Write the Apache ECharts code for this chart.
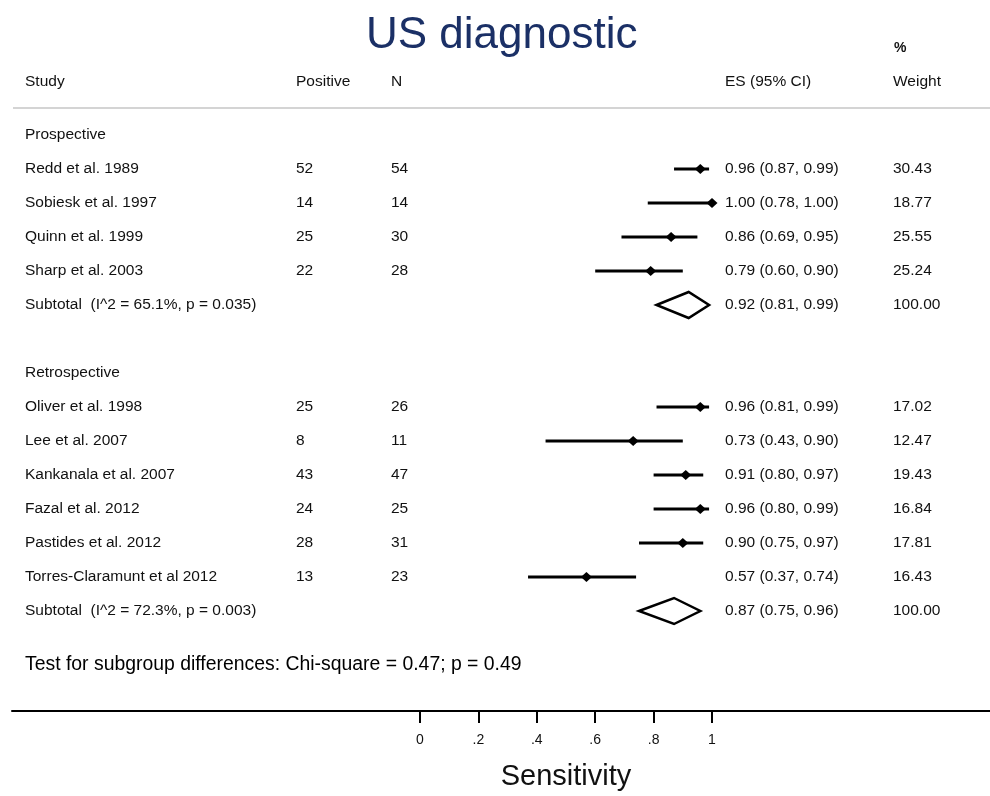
<!DOCTYPE html>
<html>
<head>
<meta charset="utf-8">
<script src="https://cdn.jsdelivr.net/npm/echarts@6/dist/echarts.min.js"></script>
<style>html,body{margin:0;padding:0;background:#fff;}#c{width:990px;height:796px;}</style>
</head>
<body>
<div id="c"></div>
<script>
// ---------- data ----------
const titleText = 'US diagnostic';
const groupNames = ['Prospective', 'Retrospective'];
const studies = ['Redd et al. 1989', 'Sobiesk et al. 1997', 'Quinn et al. 1999', 'Sharp et al. 2003',
  'Oliver et al. 1998', 'Lee et al. 2007', 'Kankanala et al. 2007', 'Fazal et al. 2012',
  'Pastides et al. 2012', 'Torres-Claramunt et al 2012'];
const studyGroup = [0, 0, 0, 0, 1, 1, 1, 1, 1, 1];
const positives = [52, 14, 25, 22, 25, 8, 43, 24, 28, 13];
const totals = [54, 14, 30, 28, 26, 11, 47, 25, 31, 23];
const es = [0.96, 1.00, 0.86, 0.79, 0.96, 0.73, 0.91, 0.96, 0.90, 0.57];
const ciLow = [0.87, 0.78, 0.69, 0.60, 0.81, 0.43, 0.80, 0.80, 0.75, 0.37];
const ciHigh = [0.99, 1.00, 0.95, 0.90, 0.99, 0.90, 0.97, 0.99, 0.97, 0.74];
const weights = ['30.43', '18.77', '25.55', '25.24', '17.02', '12.47', '19.43', '16.84', '17.81', '16.43'];
const subtotalLabels = ['Subtotal  (I^2 = 65.1%, p = 0.035)', 'Subtotal  (I^2 = 72.3%, p = 0.003)'];
const subES = [0.92, 0.87];
const subLow = [0.81, 0.75];
const subHigh = [0.99, 0.96];
const subWeights = ['100.00', '100.00'];
const headers = ['Study', 'Positive', 'N', 'ES (95% CI)', 'Weight'];
const weightTopHeader = '%';
const testText = 'Test for subgroup differences: Chi-square = 0.47; p = 0.49';
const xTicks = [0, 0.2, 0.4, 0.6, 0.8, 1];
const xTickLabels = ['0', '.2', '.4', '.6', '.8', '1'];
const xAxisName = 'Sensitivity';

// ---------- layout ----------
const FONT = "'Liberation Sans', Arial, sans-serif";
const colX = [25, 296, 391, 725, 893];   // pixel x of text columns
const ROW0_Y = 135, ROW_H = 34, AXIS_Y = 711, GRID_L = 12, GRID_R = 990;
const X0 = 420, XUNIT = 292;              // pixel of value 0 and px per unit

// assign rows
const headerRow = [], studyRow = [], subRow = [];
let r = 0;
for (let g = 0; g < groupNames.length; g++) {
  headerRow[g] = r++;
  for (let i = 0; i < studies.length; i++) if (studyGroup[i] === g) studyRow[i] = r++;
  subRow[g] = r++;
  r++;
}
const testRow = subRow[groupNames.length - 1] + 1.59;
const colHeaderRow = -1.56;
const pctRow = -2.56;
const ruleRow = -0.794;

function fmt(v) { return v.toFixed(2); }

const texts = [];
headers.forEach((h, c) => texts.push({ row: colHeaderRow, x: colX[c], t: h, size: 15.5 }));
texts.push({ row: pctRow, x: colX[4] + 1, t: weightTopHeader, size: 14, w: 'bold' });
for (let g = 0; g < groupNames.length; g++) {
  texts.push({ row: headerRow[g], x: colX[0], t: groupNames[g], size: 15.5 });
  texts.push({ row: subRow[g], x: colX[0], t: subtotalLabels[g], size: 15.5 });
  texts.push({ row: subRow[g], x: colX[3], t: fmt(subES[g]) + ' (' + fmt(subLow[g]) + ', ' + fmt(subHigh[g]) + ')', size: 15.5 });
  texts.push({ row: subRow[g], x: colX[4], t: subWeights[g], size: 15.5 });
}
studies.forEach((s, i) => {
  texts.push({ row: studyRow[i], x: colX[0], t: s, size: 15.5 });
  texts.push({ row: studyRow[i], x: colX[1], t: String(positives[i]), size: 15.5 });
  texts.push({ row: studyRow[i], x: colX[2], t: String(totals[i]), size: 15.5 });
  texts.push({ row: studyRow[i], x: colX[3], t: fmt(es[i]) + ' (' + fmt(ciLow[i]) + ', ' + fmt(ciHigh[i]) + ')', size: 15.5 });
  texts.push({ row: studyRow[i], x: colX[4], t: weights[i], size: 15.5 });
});
texts.push({ row: testRow, x: colX[0], t: testText, size: 19.4, w: 500, c: '#000' });

const chart = echarts.init(document.getElementById('c'), null, { renderer: 'canvas' });
const yMin = -ROW0_Y / ROW_H, yMax = (AXIS_Y - ROW0_Y) / ROW_H;

const option = {
  backgroundColor: '#fff',
  animation: false,
  title: {
    text: titleText, left: 366, top: 14, padding: 0,
    textStyle: { fontFamily: FONT, fontSize: 44, fontWeight: 'normal', color: '#1b3066' }
  },
  grid: { left: GRID_L, right: 990 - GRID_R, top: 0, bottom: 796 - AXIS_Y, containLabel: false },
  xAxis: {
    type: 'value',
    position: 'bottom',
    min: (GRID_L - X0) / XUNIT,
    max: (GRID_R - X0) / XUNIT,
    axisLine: { show: true, onZero: false, lineStyle: { color: '#000', width: 2 } },
    axisTick: { show: true, customValues: xTicks, length: 12, lineStyle: { color: '#000', width: 2 } },
    axisLabel: {
      show: true, customValues: xTicks, margin: 22,
      formatter: v => { const k = xTicks.findIndex(t => Math.abs(t - v) < 1e-9); return k >= 0 ? xTickLabels[k] : ''; },
      fontFamily: FONT, fontSize: 14, color: '#111'
    },
    splitLine: { show: false }
  },
  yAxis: { type: 'value', inverse: true, min: yMin, max: yMax, show: false },
  series: [
    {
      type: 'custom', data: [[ruleRow]], silent: true,
      renderItem: (p, api) => {
        const y = api.coord([0, api.value(0)])[1];
        return { type: 'line', shape: { x1: 13, y1: y, x2: 990, y2: y }, style: { stroke: '#d4d4d4', lineWidth: 2 } };
      }
    },
    {
      type: 'custom', silent: true,
      data: studies.map((s, i) => [es[i], ciLow[i], ciHigh[i], studyRow[i]]),
      renderItem: (p, api) => {
        const row = api.value(3);
        const pe = api.coord([api.value(0), row]);
        const lo = api.coord([api.value(1), row]);
        const hi = api.coord([api.value(2), row]);
        const hw = 5.5, hh = 5;
        return {
          type: 'group', children: [
            { type: 'line', shape: { x1: lo[0], y1: lo[1], x2: hi[0], y2: hi[1] }, style: { stroke: '#000', lineWidth: 3 } },
            { type: 'polygon', shape: { points: [[pe[0] - hw, pe[1]], [pe[0], pe[1] - hh], [pe[0] + hw, pe[1]], [pe[0], pe[1] + hh]] }, style: { fill: '#000' } }
          ]
        };
      }
    },
    {
      type: 'custom', silent: true,
      data: subES.map((v, g) => [v, subLow[g], subHigh[g], subRow[g]]),
      renderItem: (p, api) => {
        const row = api.value(3);
        const pe = api.coord([api.value(0), row]);
        const lo = api.coord([api.value(1), row]);
        const hi = api.coord([api.value(2), row]);
        const hh = 13;
        return {
          type: 'polygon',
          shape: { points: [[lo[0], lo[1]], [pe[0], pe[1] - hh], [hi[0], hi[1]], [pe[0], pe[1] + hh]] },
          style: { fill: '#fff', stroke: '#000', lineWidth: 2.5, lineJoin: 'miter' }
        };
      }
    },
    {
      type: 'custom', silent: true,
      data: texts.map(t => [t.row]),
      renderItem: (p, api) => {
        const t = texts[p.dataIndex];
        const y = api.coord([0, api.value(0)])[1];
        return {
          type: 'text', x: t.x, y: y,
          style: { text: t.t, fontFamily: FONT, fontSize: t.size, fontWeight: t.w || 'normal', fill: t.c || '#111', align: 'left', verticalAlign: 'middle' }
        };
      }
    },
    {
      type: 'custom', silent: true,
      data: [[0.5]],
      renderItem: (p, api) => {
        const x = api.coord([api.value(0), 0])[0];
        return {
          type: 'text', x: x, y: 777,
          style: { text: xAxisName, fontFamily: FONT, fontSize: 29, fill: '#111', align: 'center', verticalAlign: 'middle' }
        };
      }
    }
  ]
};
chart.setOption(option);
</script>
</body>
</html>
